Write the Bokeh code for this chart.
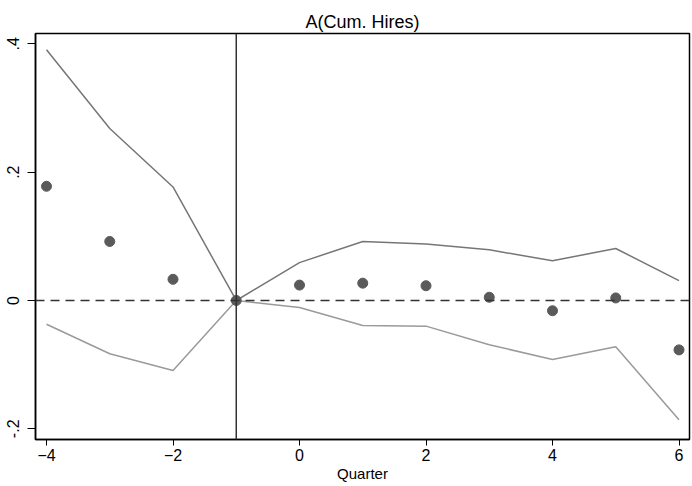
from bokeh.plotting import figure
from bokeh.models import Range1d, Span, FixedTicker
from bokeh.embed import file_html
from bokeh.resources import INLINE

# Event-study estimates for cumulative hires, by quarter relative to event
quarters = [-4, -3, -2, -1, 0, 1, 2, 3, 4, 5, 6]
estimate = [0.178, 0.092, 0.033, 0.0, 0.024, 0.027, 0.023, 0.005, -0.016, 0.004, -0.077]
upper_ci = [0.391, 0.268, 0.177, 0.0, 0.059, 0.092, 0.088, 0.079, 0.062, 0.081, 0.031]
lower_ci = [-0.037, -0.083, -0.109, 0.0, -0.011, -0.039, -0.040, -0.069, -0.092, -0.072, -0.186]

x_ticks = [-4, -2, 0, 2, 4, 6]
x_tick_labels = {-4: "\u22124", -2: "\u22122", 0: "0", 2: "2", 4: "4", 6: "6"}
y_ticks = [-0.2, 0, 0.2, 0.4]
y_tick_labels = {-0.2: "-.2", 0: "0", 0.2: ".2", 0.4: ".4"}

FONT = "Liberation Sans"

p = figure(width=692, height=486, output_backend="svg", toolbar_location=None,
           x_range=Range1d(-4.174, 6.166), y_range=Range1d(-0.2167, 0.4162),
           title="A(Cum. Hires)", x_axis_label="Quarter")

p.min_border_left = 35
p.min_border_right = 3
p.min_border_top = 33
p.min_border_bottom = 47
p.background_fill_color = "white"
p.border_fill_color = "white"
p.outline_line_color = "black"
p.outline_line_width = 1.5
p.grid.visible = False

p.title.align = "center"
p.title.text_font = FONT
p.title.text_font_size = "18px"
p.title.text_font_style = "normal"
p.title.text_color = "black"
p.title.offset = 0
p.title.standoff = 3

for ax in (p.xaxis[0], p.yaxis[0]):
    ax.axis_line_color = "black"
    ax.axis_line_width = 1.5
    ax.major_tick_line_color = "black"
    ax.major_tick_in = 0
    ax.minor_tick_line_color = None
    ax.major_label_text_font = FONT
    ax.major_label_text_font_size = "16px"
    ax.major_label_text_color = "black"

p.xaxis.ticker = FixedTicker(ticks=x_ticks)
p.xaxis.major_label_overrides = x_tick_labels
p.xaxis.major_tick_out = 6
p.xaxis.major_label_standoff = 3
p.xaxis.axis_label_text_font = FONT
p.xaxis.axis_label_text_font_size = "15px"
p.xaxis.axis_label_text_font_style = "normal"
p.xaxis.axis_label_text_color = "black"
p.xaxis.axis_label_standoff = 1

p.yaxis.ticker = FixedTicker(ticks=y_ticks)
p.yaxis.major_label_overrides = y_tick_labels
p.yaxis.major_label_orientation = "vertical"
p.yaxis.major_tick_out = 8
p.yaxis.major_label_standoff = 8

# reference lines: zero effect and the event quarter
p.add_layout(Span(location=0, dimension="width", line_color="#333333",
                  line_width=1.5, line_dash="9 6"))
p.add_layout(Span(location=-1, dimension="height", line_color="#333333",
                  line_width=1.5))

# confidence bounds
p.line(quarters, upper_ci, line_color="#767676", line_width=1.5)
p.line(quarters, lower_ci, line_color="#9a9a9a", line_width=1.5)

# point estimates
p.scatter(quarters, estimate, size=10, fill_color="#5a5a5a", line_color="#5a5a5a")

open("out.html", "w").write(file_html(p, INLINE))
